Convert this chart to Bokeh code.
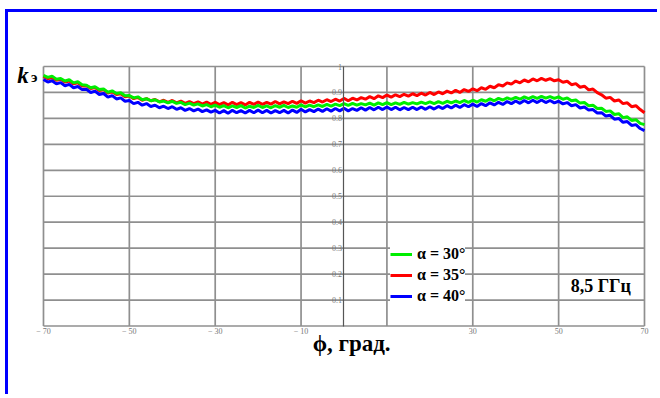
from bokeh.plotting import figure
from bokeh.models import Range1d, FixedTicker, Label, Legend, LegendItem, LinearAxis
from bokeh.embed import file_html
from bokeh.resources import INLINE

# ---- data ----
phi = list(range(-70, 71))

k_30 = [0.966, 0.958, 0.963, 0.951, 0.954, 0.944, 0.949, 0.937, 0.941, 0.930,
        0.928, 0.918, 0.922, 0.911, 0.913, 0.901, 0.906, 0.896, 0.899, 0.887,
        0.888, 0.879, 0.883, 0.872, 0.876, 0.868, 0.872, 0.863, 0.867, 0.860,
        0.866, 0.858, 0.862, 0.853, 0.859, 0.851, 0.856, 0.848, 0.853, 0.845,
        0.851, 0.843, 0.849, 0.841, 0.848, 0.842, 0.849, 0.840, 0.847, 0.842,
        0.850, 0.842, 0.848, 0.841, 0.849, 0.843, 0.850, 0.842, 0.848, 0.843,
        0.852, 0.844, 0.851, 0.845, 0.852, 0.846, 0.854, 0.847, 0.855, 0.849,
        0.857, 0.850, 0.858, 0.851, 0.857, 0.852, 0.859, 0.851, 0.860, 0.853,
        0.861, 0.853, 0.860, 0.854, 0.862, 0.855, 0.861, 0.856, 0.863, 0.857,
        0.864, 0.857, 0.865, 0.858, 0.866, 0.860, 0.867, 0.861, 0.869, 0.862,
        0.870, 0.863, 0.872, 0.866, 0.875, 0.868, 0.877, 0.871, 0.879, 0.873,
        0.881, 0.874, 0.883, 0.876, 0.884, 0.877, 0.885, 0.878, 0.884, 0.877,
        0.883, 0.874, 0.879, 0.868, 0.871, 0.859, 0.861, 0.849, 0.851, 0.838,
        0.839, 0.827, 0.829, 0.815, 0.818, 0.803, 0.806, 0.792, 0.795, 0.781,
        0.776]

k_35 = [0.962, 0.953, 0.957, 0.947, 0.951, 0.940, 0.944, 0.933, 0.937, 0.925,
        0.926, 0.915, 0.919, 0.907, 0.911, 0.898, 0.903, 0.892, 0.895, 0.883,
        0.886, 0.876, 0.881, 0.870, 0.876, 0.868, 0.873, 0.864, 0.870, 0.862,
        0.869, 0.860, 0.867, 0.858, 0.865, 0.857, 0.864, 0.855, 0.863, 0.854,
        0.862, 0.853, 0.861, 0.852, 0.862, 0.853, 0.861, 0.852, 0.862, 0.854,
        0.863, 0.854, 0.862, 0.855, 0.865, 0.856, 0.864, 0.857, 0.866, 0.858,
        0.868, 0.859, 0.867, 0.861, 0.870, 0.863, 0.872, 0.865, 0.874, 0.867,
        0.877, 0.868, 0.878, 0.871, 0.880, 0.874, 0.884, 0.876, 0.887, 0.880,
        0.890, 0.882, 0.891, 0.884, 0.893, 0.886, 0.895, 0.888, 0.897, 0.890,
        0.900, 0.892, 0.902, 0.895, 0.905, 0.898, 0.908, 0.900, 0.911, 0.904,
        0.914, 0.907, 0.918, 0.912, 0.924, 0.918, 0.930, 0.925, 0.937, 0.932,
        0.944, 0.937, 0.948, 0.941, 0.952, 0.945, 0.954, 0.947, 0.953, 0.945,
        0.949, 0.939, 0.943, 0.930, 0.934, 0.920, 0.924, 0.910, 0.913, 0.899,
        0.891, 0.878, 0.881, 0.867, 0.871, 0.857, 0.860, 0.845, 0.849, 0.834,
        0.822]

k_40 = [0.950, 0.940, 0.945, 0.933, 0.938, 0.926, 0.931, 0.918, 0.923, 0.911,
        0.912, 0.900, 0.905, 0.892, 0.896, 0.882, 0.888, 0.875, 0.879, 0.866,
        0.869, 0.857, 0.862, 0.851, 0.857, 0.846, 0.851, 0.841, 0.847, 0.838,
        0.845, 0.835, 0.841, 0.831, 0.838, 0.829, 0.836, 0.826, 0.833, 0.824,
        0.831, 0.821, 0.830, 0.820, 0.831, 0.822, 0.830, 0.821, 0.831, 0.822,
        0.832, 0.822, 0.831, 0.821, 0.830, 0.822, 0.831, 0.821, 0.832, 0.823,
        0.835, 0.825, 0.834, 0.826, 0.836, 0.827, 0.837, 0.828, 0.838, 0.829,
        0.839, 0.829, 0.838, 0.831, 0.841, 0.832, 0.842, 0.833, 0.843, 0.834,
        0.844, 0.834, 0.843, 0.833, 0.842, 0.834, 0.843, 0.834, 0.844, 0.835,
        0.845, 0.836, 0.846, 0.838, 0.849, 0.840, 0.851, 0.842, 0.853, 0.845,
        0.855, 0.846, 0.857, 0.849, 0.860, 0.852, 0.862, 0.854, 0.865, 0.857,
        0.867, 0.858, 0.869, 0.860, 0.870, 0.861, 0.871, 0.861, 0.869, 0.860,
        0.866, 0.856, 0.861, 0.849, 0.853, 0.840, 0.844, 0.832, 0.834, 0.821,
        0.822, 0.809, 0.812, 0.797, 0.800, 0.785, 0.788, 0.773, 0.776, 0.761,
        0.753]

series_labels = ["α = 30°", "α = 35°", "α = 40°"]
series_colors = ["#00ee00", "#ff0000", "#0000ff"]

x_grid = [-70, -50, -30, -10, 10, 30, 50, 70]
x_tick_labels = ["− 70", "− 50", "− 30", "− 10", "", "30", "50", "70"]
y_ticks = [0.1, 0.2, 0.3, 0.4, 0.5, 0.6, 0.7, 0.8, 0.9, 1.0]
y_tick_labels = ["0.1", "0.2", "0.3", "0.4", "0.5", "0.6", "0.7", "0.8", "0.9", "1"]
y_grid = [0.0] + y_ticks

freq_text = "8,5 ГГц"
x_title = "ϕ, град."

SERIF = "Liberation Serif"
GRID = "#8f8f8f"

W, H = 652, 385
# frame = whole canvas; the data window (-70..70, 0..1) sits inside it
p = figure(width=W, height=H, output_backend="svg", toolbar_location=None,
           x_range=Range1d(-78.15, 73.73), y_range=Range1d(-0.2755, 1.2081),
           x_axis_location=None, y_axis_location=None,
           min_border=0, min_border_left=0, min_border_right=0,
           min_border_top=0, min_border_bottom=0)
p.styles = {"border-left": "3px solid #0000ff", "border-top": "3px solid #0000ff",
            "margin-left": "5px", "margin-top": "9px"}
p.background_fill_color = "white"
p.border_fill_color = "white"
p.outline_line_color = None
p.xgrid.visible = False
p.ygrid.visible = False

# grid lines of the data window, drawn from the tick lists
xmin, xmax = x_grid[0], x_grid[-1]
ymin, ymax = y_grid[0], y_grid[-1]
p.segment(x0=x_grid, y0=[ymin] * len(x_grid), x1=x_grid, y1=[ymax] * len(x_grid),
          line_color=GRID, line_width=1.7)
p.segment(x0=[xmin] * len(y_grid), y0=y_grid, x1=[xmax] * len(y_grid), y1=y_grid,
          line_color=GRID, line_width=1.7)

# x axis at y = 0
xa = LinearAxis(fixed_location=0, bounds=(xmin, xmax))
xa.ticker = FixedTicker(ticks=x_grid)
xa.major_label_overrides = dict(zip(x_grid, x_tick_labels))
xa.axis_line_color = None
xa.major_tick_line_color = None
xa.minor_tick_line_color = None
xa.major_tick_out = 0
xa.major_tick_in = 0
xa.major_label_text_font = SERIF
xa.major_label_text_font_size = "8px"
xa.major_label_text_color = "#777777"
xa.major_label_standoff = 1
p.add_layout(xa, "below")

# y axis at x = 0
ya = LinearAxis(fixed_location=0, bounds=(ymin, ymax))
ya.ticker = FixedTicker(ticks=y_ticks)
ya.major_label_overrides = dict(zip(y_ticks, y_tick_labels))
ya.axis_line_color = "#555555"
ya.axis_line_width = 1.2
ya.major_tick_line_color = None
ya.minor_tick_line_color = None
ya.major_tick_out = 0
ya.major_tick_in = 0
ya.major_label_text_font = SERIF
ya.major_label_text_font_size = "8px"
ya.major_label_text_color = "#777777"
ya.major_label_standoff = 2
p.add_layout(ya, "left")

# curves
r35 = p.line(phi, k_35, line_color=series_colors[1], line_width=3)
r30 = p.line(phi, k_30, line_color=series_colors[0], line_width=3)
r40 = p.line(phi, k_40, line_color=series_colors[2], line_width=3)

legend = Legend(items=[LegendItem(label=series_labels[0], renderers=[r30]),
                       LegendItem(label=series_labels[1], renderers=[r35]),
                       LegendItem(label=series_labels[2], renderers=[r40])],
                location=(382, 92),
                background_fill_color="white", background_fill_alpha=1.0,
                border_line_color=None,
                label_text_font=SERIF, label_text_font_style="bold",
                label_text_font_size="16px", label_text_color="black",
                glyph_width=22, glyph_height=16, label_height=16,
                label_standoff=5, spacing=3, padding=8, margin=0)
p.add_layout(legend)

# texts
p.add_layout(Label(x=52.8, y=0.156, text=freq_text, text_font=SERIF,
                   text_font_style="bold", text_font_size="18px",
                   text_baseline="alphabetic", text_align="left", text_color="black"))
p.add_layout(Label(x=-7.3, y=-0.067, text=x_title, text_font=SERIF,
                   text_font_style="bold", text_font_size="23px",
                   text_baseline="alphabetic", text_align="left", text_color="black"))
p.add_layout(Label(x=-76.1, y=0.965, text="k", text_font=SERIF,
                   text_font_style="bold italic", text_font_size="23px",
                   text_baseline="alphabetic", text_align="left", text_color="black"))
p.add_layout(Label(x=-72.9, y=0.958, text="э", text_font=SERIF,
                   text_font_style="bold", text_font_size="15px",
                   text_baseline="alphabetic", text_align="left", text_color="black"))

open("out.html", "w").write(file_html(p, INLINE))
